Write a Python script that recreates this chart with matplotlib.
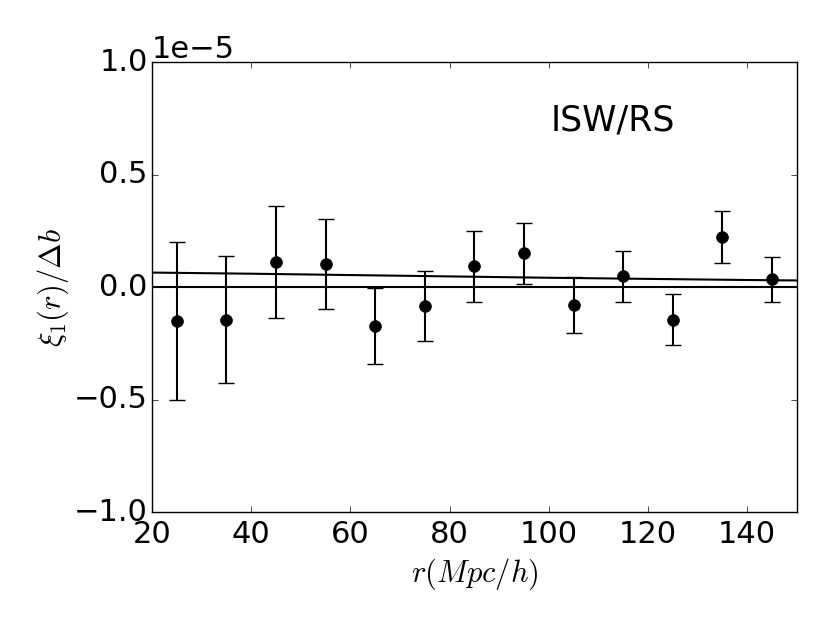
import matplotlib
matplotlib.use('Agg')
import numpy as np
import matplotlib.pyplot as plt

plt.style.use('classic')
plt.rcParams['mathtext.fontset'] = 'cm'
plt.rcParams['font.family'] = ['DejaVu Sans']

# data, y in units of 1e-5
r = [25, 35, 45, 55, 65, 75, 85, 95, 105, 115, 125, 135, 145]
xi = [-0.15, -0.144, 0.112, 0.102, -0.173, -0.084, 0.093, 0.15, -0.08, 0.049, -0.144, 0.224, 0.036]
err = [0.35, 0.282, 0.247, 0.2, 0.17, 0.157, 0.158, 0.134, 0.125, 0.113, 0.113, 0.115, 0.1]

model_r = [20, 40, 60, 80, 100, 120, 140, 150]
model_xi = [0.065, 0.060, 0.054, 0.048, 0.042, 0.037, 0.032, 0.030]

scale = 1e-5

fig = plt.figure(figsize=(8.3, 6.23), dpi=100, facecolor='white')
ax = fig.add_axes([0.183, 0.178, 0.777, 0.722])

ax.errorbar(r, np.array(xi) * scale, yerr=np.array(err) * scale, fmt='ko',
            markersize=8.5, capsize=5.5, elinewidth=1.5, ecolor='k', capthick=1.0)
ax.plot(model_r, np.array(model_xi) * scale, 'k-', linewidth=1.5)
ax.axhline(0, color='k', linewidth=1.5)

ax.set_xlim(20, 150)
ax.set_ylim(-1e-5, 1e-5)
ax.set_xticks([20, 40, 60, 80, 100, 120, 140])
ax.set_yticks([-1e-5, -0.5e-5, 0, 0.5e-5, 1e-5])
ax.ticklabel_format(style='sci', axis='y', scilimits=(0, 0), useMathText=False)
ax.tick_params(labelsize=22)
ax.tick_params(axis='y', pad=3)
ax.tick_params(axis='x', pad=6)
ax.yaxis.get_offset_text().set_fontsize(22)

ax.set_xlabel(r'$r(Mpc/h)$', fontsize=22)
ax.set_ylabel(r'$\xi_1(r)/\Delta b$', fontsize=22, labelpad=2)
ax.text(0.715, 0.871, 'ISW/RS', transform=ax.transAxes, fontsize=25, ha='center', va='center')

fig.savefig('out.png', dpi=100, facecolor='white')
